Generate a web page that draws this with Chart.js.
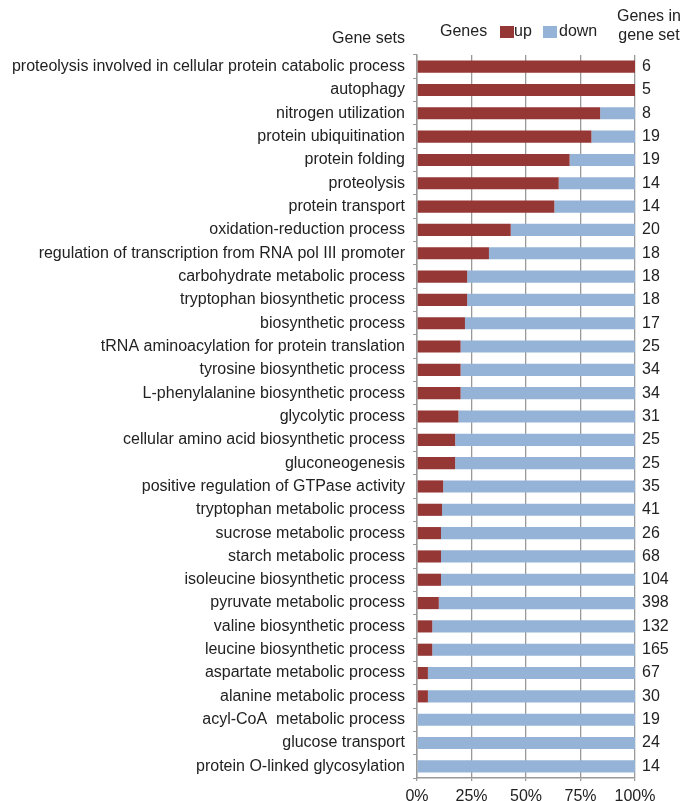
<!DOCTYPE html>
<html>
<head>
    <title>Gene sets up / down</title>
    <script src="https://cdn.jsdelivr.net/npm/chart.js"></script>
    <style>
        body { margin: 0; background: #fff; }
        .chart-container { width: 691px; height: 801px; }
    </style>
</head>
<body>
    <div class="chart-container">
        <canvas id="geneChart" width="691" height="801"></canvas>
    </div>

    <script>
        // Gene sets, top to bottom
        const geneSets = [
            'proteolysis involved in cellular protein catabolic process',
            'autophagy',
            'nitrogen utilization',
            'protein ubiquitination',
            'protein folding',
            'proteolysis',
            'protein transport',
            'oxidation-reduction process',
            'regulation of transcription from RNA pol III promoter',
            'carbohydrate metabolic process',
            'tryptophan biosynthetic process',
            'biosynthetic process',
            'tRNA aminoacylation for protein translation',
            'tyrosine biosynthetic process',
            'L-phenylalanine biosynthetic process',
            'glycolytic process',
            'cellular amino acid biosynthetic process',
            'gluconeogenesis',
            'positive regulation of GTPase activity',
            'tryptophan metabolic process',
            'sucrose metabolic process',
            'starch metabolic process',
            'isoleucine biosynthetic process',
            'pyruvate metabolic process',
            'valine biosynthetic process',
            'leucine biosynthetic process',
            'aspartate metabolic process',
            'alanine metabolic process',
            'acyl-CoA  metabolic process',
            'glucose transport',
            'protein O-linked glycosylation'
        ];

        // percent of genes up
        const upPct = [100, 100, 84, 80, 70, 65, 63, 43, 33, 23, 23, 22, 20, 20, 20, 19,
                       17.5, 17.5, 12, 11.5, 11, 11, 11, 10, 7, 7, 5, 5, 0, 0, 0];
        const downPct = upPct.map(v => 100 - v);

        // genes in gene set (right column)
        const geneCounts = ['6', '5', '8', '19', '19', '14', '14', '20', '18', '18', '18', '17', '25',
                            '34', '34', '31', '25', '25', '35', '41', '26', '68', '104', '398', '132',
                            '165', '67', '30', '19', '24', '14'];

        const xTicks = [0, 25, 50, 75, 100];

        const RED = '#953735';
        const BLUE = '#95B3D7';
        const AXIS = '#999999';
        const FONT = '"Liberation Sans", Arial, sans-serif';

        // header text + legend drawn by hand
        const headerPlugin = {
            id: 'header',
            afterDraw(chart) {
                const ctx = chart.ctx;
                ctx.save();
                ctx.fillStyle = '#222';
                ctx.font = '16px ' + FONT;
                ctx.textBaseline = 'middle';

                ctx.textAlign = 'right';
                ctx.fillText('Gene sets', 405, 39);

                ctx.textAlign = 'left';
                ctx.fillText('Genes', 440, 32);
                ctx.fillStyle = RED;
                ctx.fillRect(500, 26, 14, 12);
                ctx.fillStyle = '#222';
                ctx.fillText('up', 514, 32);
                ctx.fillStyle = BLUE;
                ctx.fillRect(543, 26, 14, 12);
                ctx.fillStyle = '#222';
                ctx.fillText('down', 559, 32);

                ctx.textAlign = 'center';
                ctx.fillText('Genes in', 649, 17);
                ctx.fillText('gene set', 649, 36);
                ctx.restore();
            }
        };

        new Chart(document.getElementById('geneChart').getContext('2d'), {
            type: 'bar',
            data: {
                labels: geneSets,
                datasets: [
                    { label: 'up', data: upPct, backgroundColor: RED, stack: 's' },
                    { label: 'down', data: downPct, backgroundColor: BLUE, stack: 's' }
                ]
            },
            options: {
                indexAxis: 'y',
                responsive: false,
                animation: false,
                categoryPercentage: 1,
                barPercentage: 0.52,
                layout: { padding: { top: 55, left: 0, right: 0, bottom: 0 } },
                plugins: {
                    legend: { display: false },
                    tooltip: { enabled: false }
                },
                scales: {
                    x: {
                        stacked: true,
                        min: 0,
                        max: 100,
                        afterBuildTicks: s => { s.ticks = xTicks.map(v => ({ value: v })); },
                        afterFit: s => { s.height = 23; },
                        ticks: {
                            callback: v => v + '%',
                            color: '#222',
                            font: { size: 16, family: FONT },
                            padding: 6,
                            maxRotation: 0
                        },
                        grid: { color: AXIS, lineWidth: 1.3, tickLength: 3 },
                        border: { color: AXIS, width: 1.5 }
                    },
                    y: {
                        stacked: true,
                        afterFit: s => { s.width = 417; },
                        ticks: {
                            color: '#222',
                            font: { size: 16, family: FONT },
                            padding: 8,
                            autoSkip: false
                        },
                        grid: { drawOnChartArea: false, color: AXIS, tickLength: 4, offset: true },
                        border: { color: AXIS, width: 1.5 }
                    },
                    y2: {
                        type: 'category',
                        position: 'right',
                        labels: geneCounts,
                        offset: true,
                        afterFit: s => { s.width = 56; },
                        ticks: {
                            color: '#222',
                            font: { size: 16, family: FONT },
                            padding: 7,
                            autoSkip: false
                        },
                        grid: { display: false, drawTicks: false },
                        border: { display: false }
                    }
                }
            },
            plugins: [headerPlugin]
        });
    </script>
</body>
</html>
